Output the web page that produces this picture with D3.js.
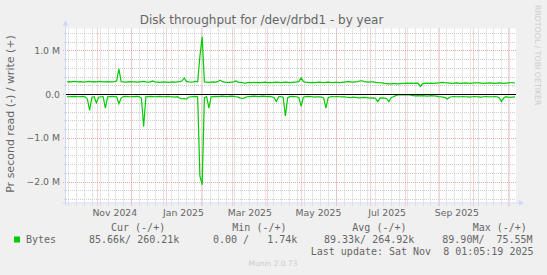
<!DOCTYPE html>
<html>
<head>
<meta charset="utf-8">
<script src="https://cdn.jsdelivr.net/npm/d3@7"></script>
<style>
  body { margin: 0; background: #f0f0f0; }
  svg { display: block; font-family: "DejaVu Sans", sans-serif; }
  .mono { font-family: "DejaVu Sans Mono", monospace; white-space: pre; }
</style>
</head>
<body>
<script>
const w = 547;
const h = 275;

// munin "by year" = 400 days back from the last update
const startDate = new Date(2024, 9, 4, 2, 5, 19);
const endDate = new Date(2025, 10, 8, 1, 5, 19);
const stepDays = 2;

// write (+) bytes/s in k, one reading every 2 days
const writeK = [
  280, 285, 280, 290, 285, 280, 285, 275, 280, 285,
  290, 280, 285, 280, 290, 285, 280, 280, 285, 280,
  280, 285, 300, 580, 285, 280, 275, 280, 285, 280,
  280, 275, 280, 285, 290, 280, 275, 280, 300, 280,
  275, 270, 275, 280, 275, 270, 275, 280, 275, 280,
  285, 300, 370, 290, 280, 275, 280, 290, 280, 860,
  1310, 280, 275, 270, 275, 280, 275, 285, 320, 285,
  275, 270, 270, 275, 280, 300, 275, 270, 265, 245,
  265, 270, 265, 270, 265, 270, 265, 270, 275, 265,
  270, 265, 270, 275, 270, 265, 270, 275, 270, 265,
  270, 275, 280, 290, 370, 285, 275, 270, 265, 270,
  265, 270, 275, 270, 265, 270, 275, 270, 265, 270,
  270, 265, 270, 275, 280, 285, 280, 275, 280, 285,
  300, 305, 285, 280, 275, 280, 280, 270, 265, 260,
  255, 245, 240, 235, 235, 240, 240, 235, 240, 245,
  245, 250, 245, 250, 245, 250, 245, 175, 240, 245,
  250, 245, 250, 245, 250, 255, 265, 270, 260, 255,
  250, 245, 250, 255, 250, 245, 250, 255, 250, 245,
  250, 255, 260, 255, 250, 245, 250, 250, 255, 250,
  245, 250, 255, 250, 245, 250, 255, 260, 265, 255
];

// read (-) bytes/s in k, drawn below zero
const readK = [
  -55, -60, -55, -50, -55, -60, -55, -50, -60, -110,
  -370, -70, -60, -200, -70, -60, -55, -320, -60, -55,
  -50, -55, -60, -220, -90, -55, -50, -55, -60, -55,
  -55, -50, -55, -90, -740, -60, -55, -50, -55, -60,
  -55, -50, -55, -60, -55, -50, -60, -65, -70, -60,
  -90, -110, -100, -115, -70, -60, -55, -50, -60, -1870,
  -2070, -80, -55, -320, -60, -55, -50, -55, -50, -45,
  -50, -55, -50, -45, -50, -60, -70, -90, -100, -80,
  -60, -55, -50, -45, -50, -55, -50, -45, -50, -55,
  -50, -60, -80, -170, -60, -55, -70, -500, -80, -55,
  -50, -55, -60, -80, -280, -70, -55, -50, -55, -60,
  -70, -65, -60, -70, -90, -320, -80, -60, -55, -60,
  -55, -60, -65, -60, -70, -75, -80, -70, -75, -80,
  -85, -80, -75, -80, -85, -90, -85, -95, -170, -90,
  -85, -90, -100, -170, -80, -60, -35, -20, -15, -10,
  -15, -20, -15, -30, -35, -40, -35, -40, -35, -40,
  -45, -40, -35, -40, -45, -55, -60, -70, -80, -110,
  -70, -60, -55, -60, -65, -60, -55, -60, -65, -70,
  -60, -55, -60, -65, -70, -60, -55, -60, -65, -60,
  -55, -60, -80, -170, -90, -60, -70, -75, -70, -65
];

const yTicks = [1000, 0, -1000, -2000];
const xTickLabels = ["Nov 2024", "Jan 2025", "Mar 2025", "May 2025", "Jul 2025", "Sep 2025"];

const legendHeads = ["Cur (-/+)", "Min (-/+)", "Avg (-/+)", "Max (-/+)"];
const legendVals = ["85.66k/ 260.21k", "0.00 /   1.74k", "89.33k/ 264.92k", "89.90M/  75.55M"];

const plotLeft = 66, plotRight = 516, plotTop = 28.5, plotBottom = 203.5;
const green = "#00cc00";
const fontCol = "#666666";
const axisCol = "#cfd6f8";

const svg = d3.select("body")
  .append("svg")
  .attr("width", w)
  .attr("height", h);

svg.append("rect").attr("width", w).attr("height", h).attr("fill", "#f0f0f0");

const xScale = d3.scaleTime()
  .domain([startDate, endDate])
  .range([plotLeft, plotRight]);

const yScale = d3.scaleLinear()
  .domain([-2500, 1500])
  .range([plotBottom, plotTop]);

// canvas
svg.append("rect")
  .attr("x", plotLeft).attr("y", plotTop)
  .attr("width", plotRight - plotLeft).attr("height", plotBottom - plotTop)
  .attr("fill", "#ffffff");

const grid = svg.append("g").attr("fill", "none").attr("stroke-width", 1).attr("stroke-dasharray", "1,1");

// minor grid: weeks and 0.2 M
d3.timeSunday.range(startDate, endDate).forEach(d => {
  const px = Math.round(xScale(d)) + 0.5;
  grid.append("line").attr("x1", px).attr("x2", px).attr("y1", plotTop).attr("y2", plotBottom + 2)
    .attr("stroke", "#cccccc");
});
d3.range(-2400, 1500, 200).filter(v => v % 1000 !== 0).forEach(v => {
  const py = Math.round(yScale(v)) + 0.5;
  grid.append("line").attr("x1", plotLeft - 2).attr("x2", plotRight).attr("y1", py).attr("y2", py)
    .attr("stroke", "#cccccc");
});

// major grid: months and 1 M
d3.timeMonth.range(startDate, endDate).forEach(d => {
  const px = Math.round(xScale(d)) + 0.5;
  grid.append("line").attr("x1", px).attr("x2", px).attr("y1", plotTop).attr("y2", plotBottom + 3)
    .attr("stroke", "#efa5a5");
});
yTicks.forEach(v => {
  const py = Math.round(yScale(v)) + 0.5;
  grid.append("line").attr("x1", plotLeft - 3).attr("x2", plotRight).attr("y1", py).attr("y2", py)
    .attr("stroke", "#efa5a5");
});

// series
const dateAt = i => d3.timeDay.offset(startDate, 1 + i * stepDays);
const line = d3.line()
  .x((d, i) => xScale(dateAt(i)))
  .y(d => yScale(d));

svg.append("path").datum(writeK)
  .attr("d", line).attr("fill", "none").attr("stroke", green).attr("stroke-width", 1.2);
svg.append("path").datum(readK)
  .attr("d", line).attr("fill", "none").attr("stroke", green).attr("stroke-width", 1.2);

// zero rule
const zy = Math.round(yScale(0)) + 0.5;
svg.append("line")
  .attr("x1", plotLeft).attr("x2", plotRight).attr("y1", zy).attr("y2", zy)
  .attr("stroke", "#000000").attr("stroke-width", 1);

// axes lines + arrows
svg.append("line").attr("x1", plotLeft - 0.5).attr("x2", plotLeft - 0.5).attr("y1", plotBottom + 2).attr("y2", plotTop - 4)
  .attr("stroke", axisCol);
svg.append("path").attr("d", `M${plotLeft - 3.5},${plotTop - 3} L${plotLeft + 2.5},${plotTop - 3} L${plotLeft - 0.5},${plotTop - 8} Z`)
  .attr("fill", axisCol);
svg.append("line").attr("x1", plotLeft - 3).attr("x2", plotRight + 4).attr("y1", plotBottom - 0.5).attr("y2", plotBottom - 0.5)
  .attr("stroke", axisCol);
svg.append("path").attr("d", `M${plotRight + 3},${plotBottom - 3.5} L${plotRight + 3},${plotBottom + 2.5} L${plotRight + 8},${plotBottom - 0.5} Z`)
  .attr("fill", axisCol);

// y tick labels
const yAxis = d3.axisLeft(yScale)
  .tickValues(yTicks)
  .tickSize(0)
  .tickPadding(6)
  .tickFormat(v => v === 0 ? "0.0" : d3.format(".1f")(v / 1000) + " M");
const yAxisGroup = svg.append("g")
  .attr("transform", `translate(${plotLeft}, 0)`)
  .call(yAxis);
yAxisGroup.select(".domain").remove();
yAxisGroup.selectAll("text")
  .attr("fill", fontCol)
  .style("font-family", "DejaVu Sans")
  .style("font-size", "9.3px");

// x tick labels, centred half a month after each label month
const parseMonth = d3.timeParse("%b %Y");
const xAxis = d3.axisBottom(xScale)
  .tickValues(xTickLabels.map(s => d3.timeDay.offset(parseMonth(s), 15)))
  .tickSize(0)
  .tickPadding(6)
  .tickFormat((d, i) => xTickLabels[i]);
const xAxisGroup = svg.append("g")
  .attr("transform", `translate(0, ${plotBottom})`)
  .call(xAxis);
xAxisGroup.select(".domain").remove();
xAxisGroup.selectAll("text")
  .attr("fill", fontCol)
  .style("font-family", "DejaVu Sans")
  .style("font-size", "9.3px");

// title
svg.append("text")
  .attr("x", 261.5).attr("y", 24.3)
  .attr("text-anchor", "middle")
  .attr("fill", fontCol)
  .style("font-size", "12px")
  .text("Disk throughput for /dev/drbd1 - by year");

// y label
svg.append("text")
  .attr("transform", "translate(14, 114) rotate(-90)")
  .attr("text-anchor", "middle")
  .attr("fill", fontCol)
  .style("font-size", "11px")
  .text("Pr second read (-) / write (+)");

// side watermark
svg.append("text")
  .attr("transform", "translate(534.5, 5) rotate(90)")
  .attr("fill", "#cccccc")
  .style("font-size", "7.8px")
  .text("RRDTOOL / TOBI OETIKER");

// legend
const headX = [111, 232.3, 352.3, 472.7];
const valX = [89, 213, 324, 442.3];
legendHeads.forEach((t, i) => {
  svg.append("text").attr("class", "mono")
    .attr("x", headX[i]).attr("y", 230.7)
    .attr("fill", fontCol).style("font-size", "10px")
    .text(t);
});
svg.append("rect")
  .attr("x", 14).attr("y", 236.5).attr("width", 6).attr("height", 6)
  .attr("fill", green);
svg.append("text").attr("class", "mono")
  .attr("x", 26).attr("y", 243)
  .attr("fill", fontCol).style("font-size", "10px")
  .text("Bytes");
legendVals.forEach((t, i) => {
  svg.append("text").attr("class", "mono")
    .attr("x", valX[i]).attr("y", 243)
    .attr("fill", fontCol).style("font-size", "10px")
    .text(t);
});
svg.append("text").attr("class", "mono")
  .attr("x", 533.5).attr("y", 255)
  .attr("text-anchor", "end")
  .attr("fill", fontCol).style("font-size", "10px")
  .text("Last update: Sat Nov  8 01:05:19 2025");

svg.append("text")
  .attr("x", 273).attr("y", 266)
  .attr("text-anchor", "middle")
  .attr("fill", "#cccccc")
  .style("font-size", "7.5px")
  .text("Munin 2.0.73");
</script>
</body>
</html>
